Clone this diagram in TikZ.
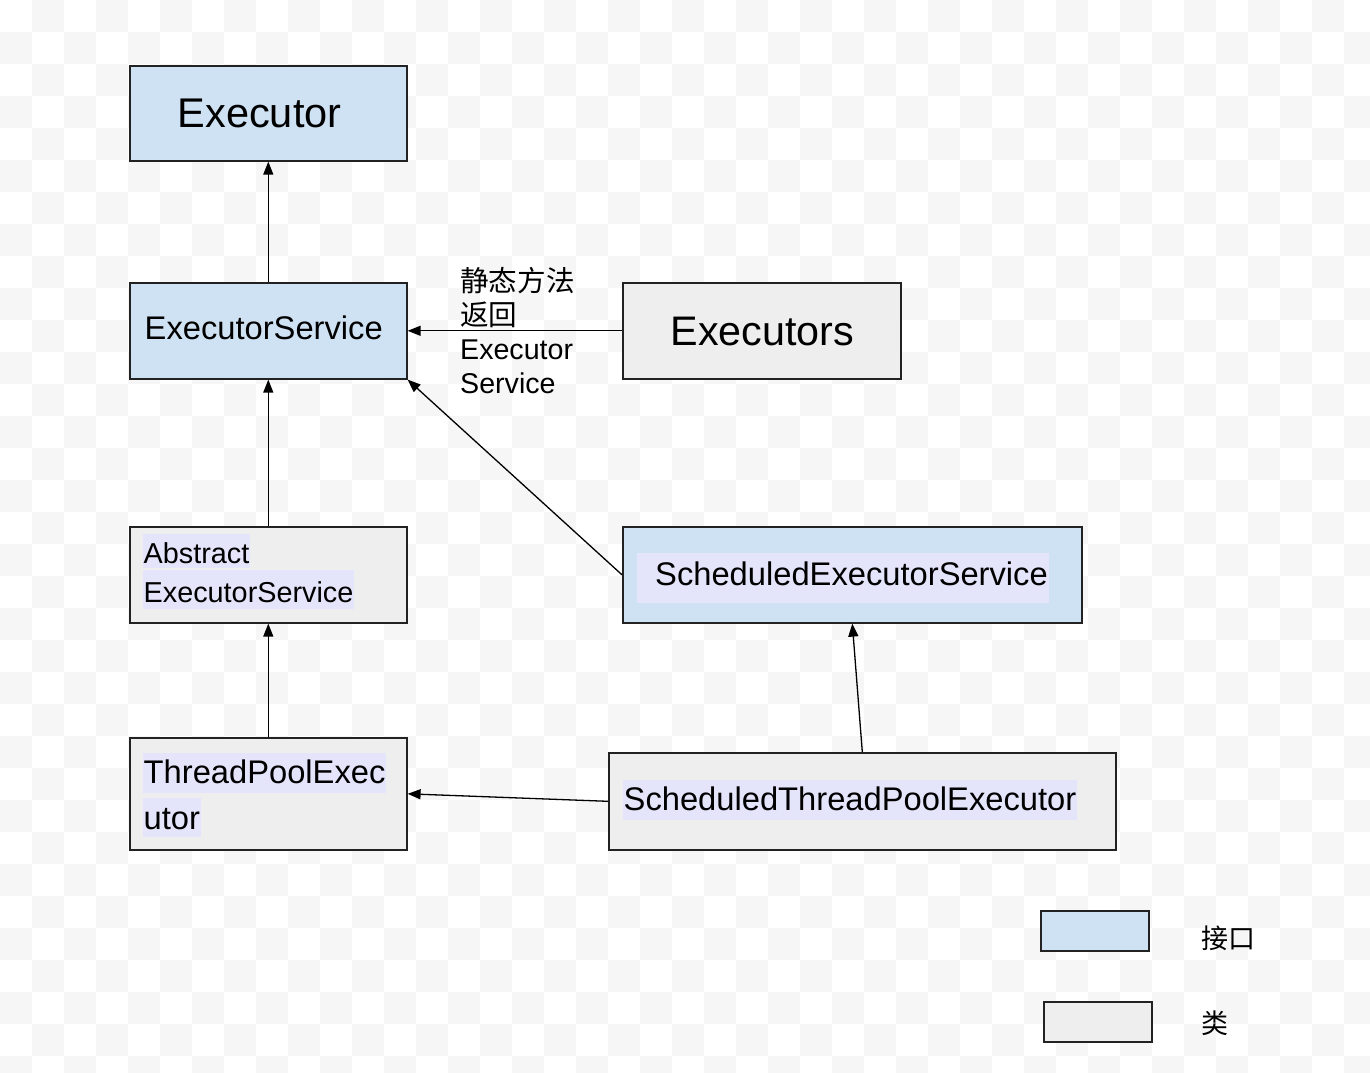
\documentclass[tikz,border=0pt]{standalone}
\usepackage{fontspec}
\setmainfont{Liberation Sans}
\newfontfamily\cjk{Noto Sans CJK SC}
\usetikzlibrary{arrows.meta}
\definecolor{ifblue}{HTML}{CFE2F3}
\definecolor{clgray}{HTML}{EEEEEE}
\definecolor{hlcol}{HTML}{E4E4FB}
\definecolor{boxline}{HTML}{222222}
\definecolor{checkgray}{HTML}{F6F6F6}
\tikzset{
  ifbox/.style={draw=boxline, line width=1.6pt, fill=ifblue, rectangle, inner sep=0pt, anchor=north west},
  clbox/.style={draw=boxline, line width=1.6pt, fill=clgray, rectangle, inner sep=0pt, anchor=north west},
  txt/.style={inner sep=0pt, anchor=base west, text=black},
  hl/.style={fill=hlcol, inner xsep=0.5pt, inner ysep=0pt, anchor=base west, text=black},
  conn/.style={line width=1.3pt, draw=black, -{Triangle[length=13pt,width=10pt]}},
  fbig/.style={font=\fontsize{41.5pt}{48pt}\selectfont},
  fmid/.style={font=\fontsize{32.7pt}{38pt}\selectfont},
  fsmall/.style={font=\fontsize{28.8pt}{34pt}\selectfont},
  flabel/.style={font=\fontsize{28.6pt}{33.7pt}\selectfont},
  fcjk/.style={font=\cjk\fontsize{27pt}{32pt}\selectfont}
}
\begin{document}
\begin{tikzpicture}[x=1pt,y=-1pt]
\useasboundingbox (0,0) rectangle (1370,1072);
\begin{scope}
  \clip (0,0) rectangle (1370,1072);
  \fill[white] (0,0) rectangle (1370,1072);
  \foreach \i in {0,...,42}{\foreach \j in {0,...,33}{%
    \ifodd\numexpr\i+\j\relax \fill[checkgray] (\i*32,\j*32) rectangle ++(32,32);\fi}}
\end{scope}

% boxes
\node[ifbox, minimum width=277pt, minimum height=95pt] (exec) at (129,65) {};
\node[ifbox, minimum width=277pt, minimum height=96pt] (es) at (129,282) {};
\node[clbox, minimum width=278pt, minimum height=96pt] (execs) at (622,282) {};
\node[clbox, minimum width=277pt, minimum height=96pt] (aes) at (129,526) {};
\node[ifbox, minimum width=459pt, minimum height=96pt] (ses) at (622,526) {};
\node[clbox, minimum width=277pt, minimum height=112pt] (tpe) at (129,737) {};
\node[clbox, minimum width=507pt, minimum height=97pt] (stpe) at (608,752) {};

% texts
\node[txt, fbig] (execT) at (177.5,127) {Executor};
\node[txt, fmid] (esT) at (144.5,339) {ExecutorService};
\node[txt, font=\fontsize{41.3pt}{46pt}\selectfont] (execsT) at (670.5,345) {Executors};
\node[hl, fsmall, text height=29pt, text depth=5pt] (aesT1) at (143,563) {Abstract};
\node[hl, fsmall, text height=32pt, text depth=7pt] (aesT2) at (143,602) {ExecutorService};
\node[hl, fmid, text height=30.5pt, text depth=9.5pt] (tpeT1) at (143,783.5) {ThreadPoolExec};
\node[hl, fmid, text height=31.5pt, text depth=7.5pt] (tpeT2) at (143,829.5) {utor};
\node[hl, fmid, text height=30.7pt, text depth=9.3pt] (stpeT) at (623,810.7) {ScheduledThreadPoolExecutor};
\node[hl, fmid, text height=32pt, text depth=18pt, inner xsep=1pt] (sesT) at (637,585) {\hspace{17pt}ScheduledExecutorService};

% connectors
\draw[conn] (es.north) -- (exec.south);
\draw[conn] (aes.north) -- (es.south);
\draw[conn] (tpe.north) -- (aes.south);
\draw[conn] (execs.west) -- (es.east);
\draw[conn] (ses.west) -- (es.south east);
\draw[conn] (stpe.north) -- (ses.south);
\draw[conn] (stpe.west) -- (tpe.east);

% edge label
\node[txt, flabel, align=left] (lbl) at (460,393) {{\cjk 静态方法}\\{\cjk 返回}\\Executor\\Service};

% legend
\node[ifbox, minimum width=108pt, minimum height=40pt] (legI) at (1040,910) {};
\node[clbox, minimum width=108pt, minimum height=40pt] (legC) at (1043,1001) {};
\node[inner sep=0pt, anchor=west, fcjk] (legIT) at (1201,938) {接口};
\node[inner sep=0pt, anchor=west, fcjk] (legCT) at (1201,1023) {类};
\end{tikzpicture}
\end{document}
